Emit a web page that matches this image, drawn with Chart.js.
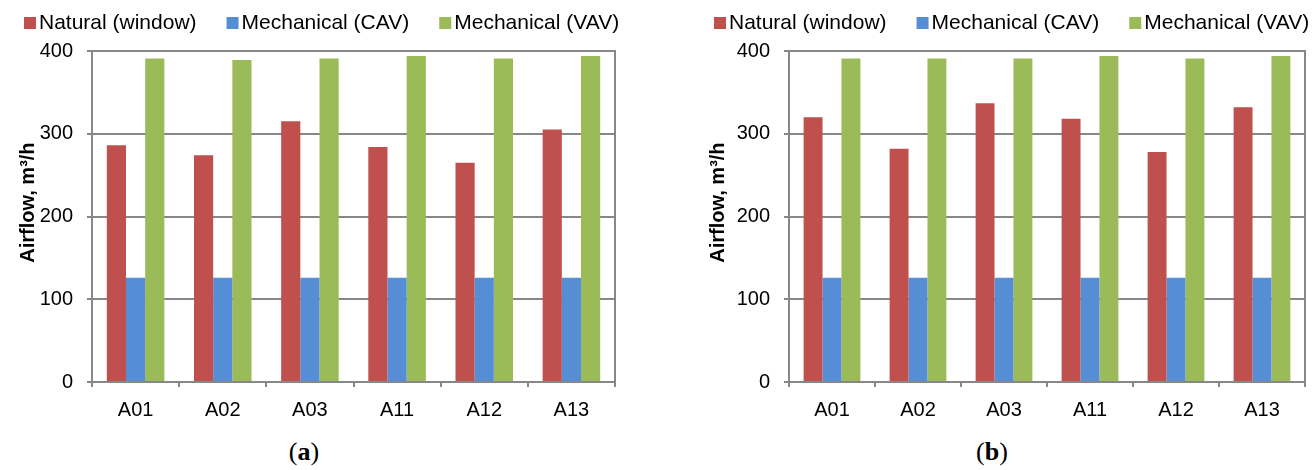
<!DOCTYPE html>
<html><head><meta charset="utf-8">
<script src="https://cdn.jsdelivr.net/npm/chart.js@4.4.1/dist/chart.umd.min.js"></script>
<style>
html,body{margin:0;padding:0;background:#fff;width:1314px;height:470px;overflow:hidden;position:relative}
.box{position:absolute;top:0;width:657px;height:433px}
.cap{position:absolute;top:437px;font-family:"Liberation Serif","Times New Roman",serif;font-size:26px;color:#000;transform:translateX(-50%);white-space:nowrap}
</style></head><body>
<div class="box" style="left:0"><canvas id="ca" width="657" height="433"></canvas></div>
<div class="box" style="left:657px"><canvas id="cb" width="657" height="433"></canvas></div>
<div class="cap" style="left:304px">(<b>a</b>)</div>
<div class="cap" style="left:992px">(<b>b</b>)</div>
<script>
const categories = ['A01','A02','A03','A11','A12','A13'];
const seriesNames = ['Natural (window)','Mechanical (CAV)','Mechanical (VAV)'];
const naturalA = [286,274,315,284,265,305];
const cavA     = [126,126,126,126,126,126];
const vavA     = [391,389,391,394,391,394];
const naturalB = [320,282,337,318,278,332];
const cavB     = [126,126,126,126,126,126];
const vavB     = [391,391,391,394,391,394];
const yMin = 0, yMax = 400, yStep = 100;
const yTitle = 'Airflow, m\u00b3/h';
const colors = ['#C0504D','#558ED5','#9BBB59'];

const GRID = '#878787';
const FONT = '"Liberation Sans", Arial, sans-serif';

const legendPlugin = {
  id:'customLegend',
  afterDraw(chart, args, opts){
    const ctx = chart.ctx; ctx.save();
    ctx.font = '21px ' + FONT;
    ctx.textBaseline = 'middle';
    let x = opts.x;
    chart.data.datasets.forEach(ds => {
      ctx.fillStyle = ds.backgroundColor;
      ctx.fillRect(x, opts.y - 6, 12, 12);
      x += 15;
      ctx.fillStyle = '#000';
      ctx.fillText(ds.label, x, opts.y);
      x += ctx.measureText(ds.label).width + 30;
    });
    ctx.restore();
  }
};
const framePlugin = {
  id:'frame',
  beforeDatasetsDraw(chart){
    const {ctx, chartArea:a} = chart; ctx.save();
    ctx.strokeStyle = GRID; ctx.lineWidth = 2;
    ctx.beginPath();
    ctx.moveTo(a.left, a.top); ctx.lineTo(a.right, a.top); ctx.lineTo(a.right, a.bottom);
    ctx.stroke(); ctx.restore();
  }
};

function makeChart(id, nat, cav, vav, pad, yWidth, legendX){
  return new Chart(document.getElementById(id), {
    type:'bar',
    data:{
      labels: categories,
      datasets:[
        {label: seriesNames[0], data: nat, backgroundColor: colors[0]},
        {label: seriesNames[1], data: cav, backgroundColor: colors[1]},
        {label: seriesNames[2], data: vav, backgroundColor: colors[2]}
      ]
    },
    options:{
      responsive:false, animation:false, devicePixelRatio:1,
      layout:{padding: pad},
      datasets:{bar:{categoryPercentage:0.66, barPercentage:1.0, borderWidth:0}},
      plugins:{
        legend:{display:false}, tooltip:{enabled:false},
        customLegend:{x: legendX, y: 23}
      },
      scales:{
        x:{
          offset:true,
          grid:{display:true, drawOnChartArea:false, drawTicks:true, tickLength:5, color:GRID, lineWidth:2, offset:true},
          border:{display:true, color:GRID, width:2},
          ticks:{font:{family:FONT, size:20}, color:'#000', padding:11}
        },
        y:{
          min:yMin, max:yMax,
          afterFit(s){ s.width = yWidth; },
          ticks:{stepSize:yStep, font:{family:FONT, size:20}, color:'#000', padding:14},
          grid:{color:GRID, lineWidth:2, tickLength:5, drawTicks:true},
          border:{display:true, color:GRID, width:2},
          title:{display:true, text:'\u00a0\u00a0\u00a0\u00a0\u00a0' + yTitle, color:'#000', font:{family:FONT, size:20, weight:'bold'}, padding:{top:4,bottom:4}}
        }
      }
    },
    plugins:[legendPlugin, framePlugin]
  });
}
makeChart('ca', naturalA, cavA, vavA, {left:12, right:42, top:51, bottom:0}, 80, 24);
makeChart('cb', naturalB, cavB, vavB, {left:45, right:9, top:51, bottom:0}, 87, 57);
</script>
</body></html>
